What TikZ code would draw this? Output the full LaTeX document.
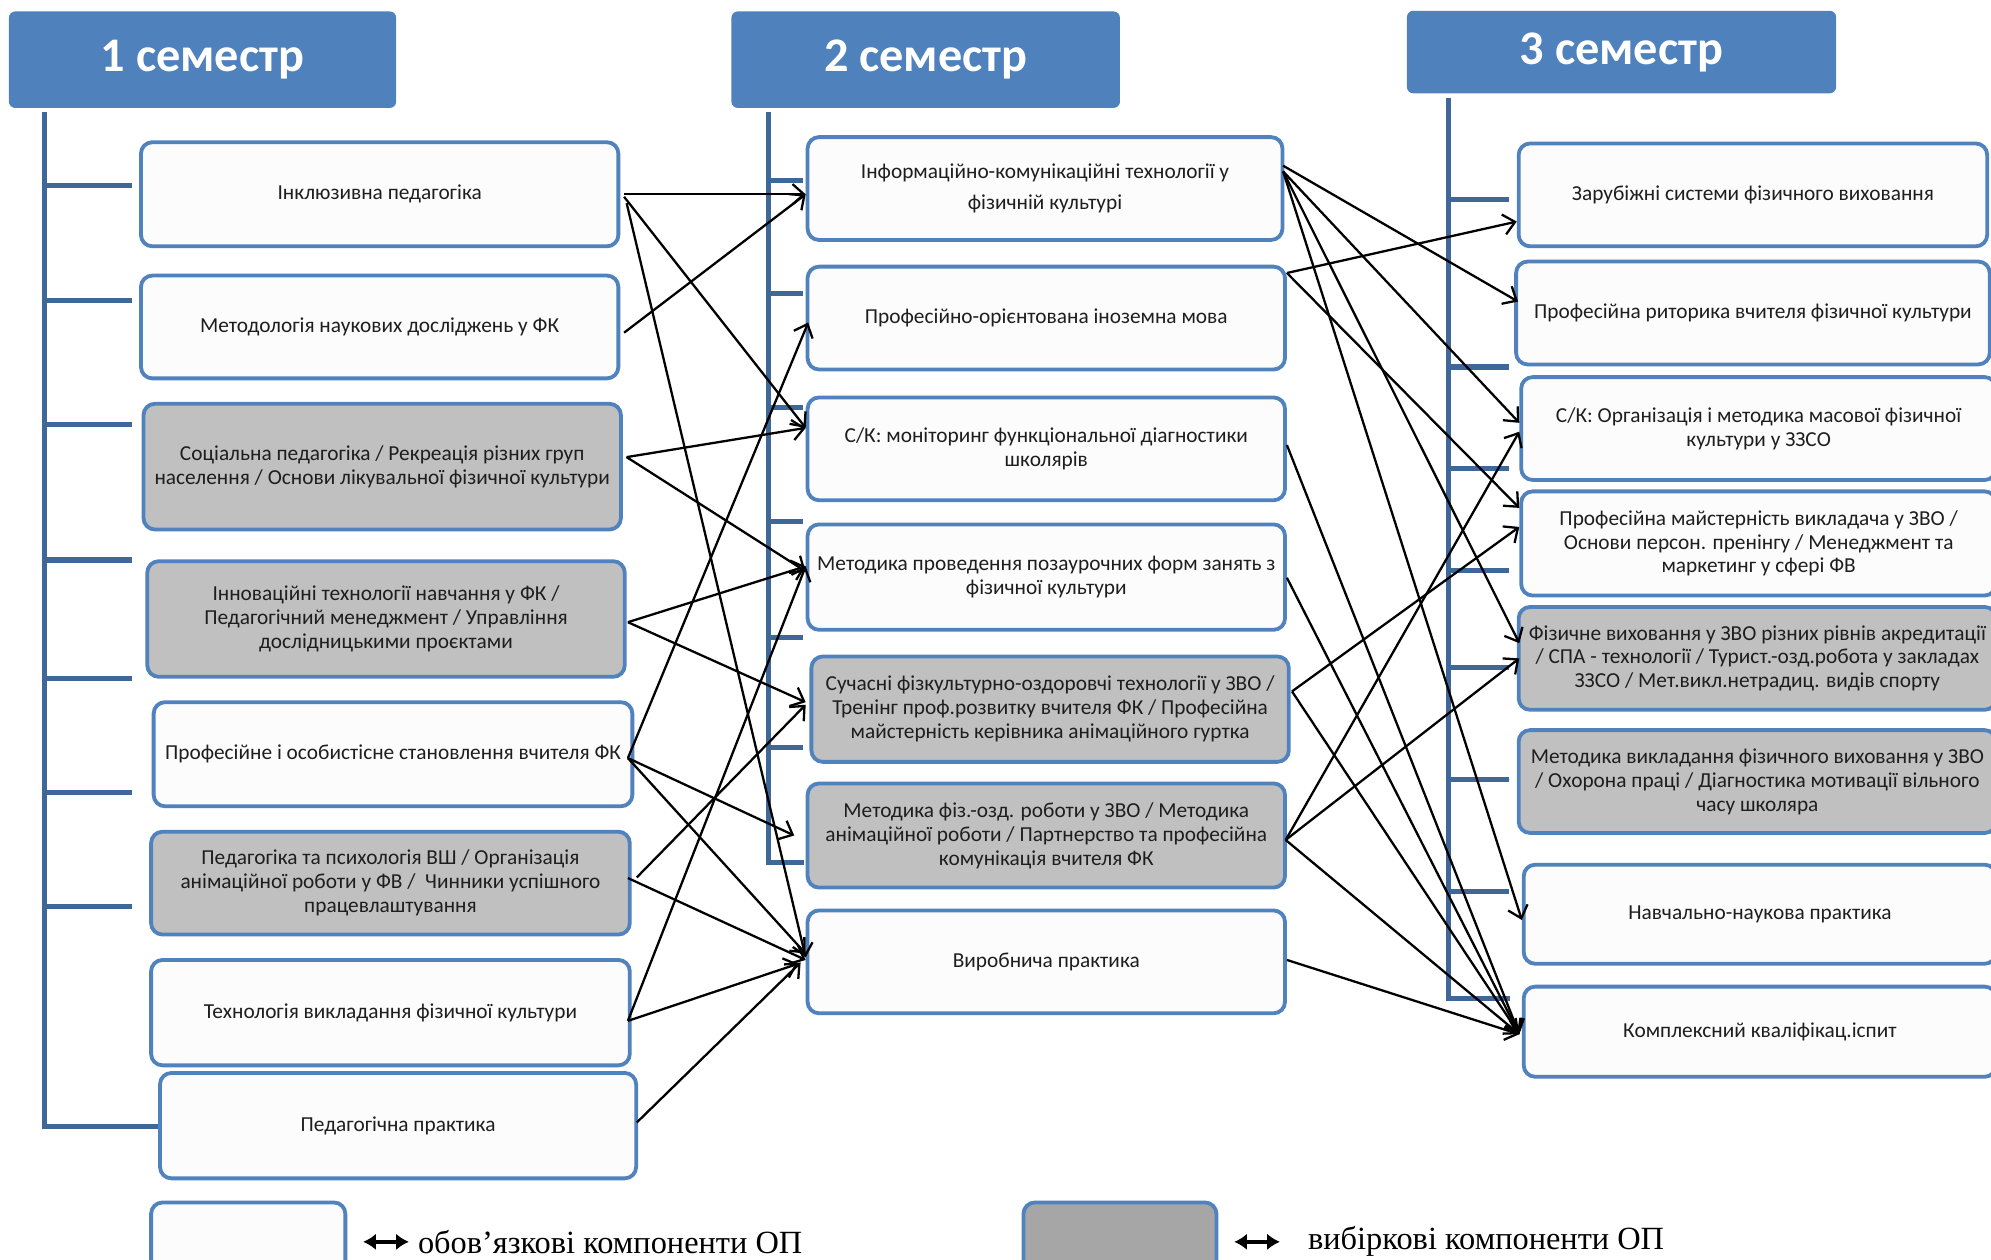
\documentclass[tikz,border=0pt]{standalone}
\usepackage{fontspec}
\setmainfont{Carlito}
\newfontfamily\legendfont{Liberation Serif}
\usetikzlibrary{arrows.meta,calc}
\definecolor{hblue}{HTML}{4F81BD}
\definecolor{bblue}{HTML}{5082BE}
\definecolor{tblue}{HTML}{3F6797}
\definecolor{boxwhite}{HTML}{FCFCFC}
\definecolor{boxgray}{HTML}{C0C0C0}
\definecolor{leggray}{HTML}{A6A6A6}
\definecolor{textc}{HTML}{1E1E1E}
\tikzset{
 box/.style={draw=bblue, line width=3pt, rounded corners=9pt, fill=boxwhite, align=center,
   font=\fontsize{16.8}{18.8}\selectfont, text=textc, inner sep=0pt},
 optbox/.style={box, fill=boxgray},
 hdr/.style={fill=hblue, rounded corners=5pt, text=white, font=\bfseries\fontsize{38}{44}\selectfont, inner sep=0pt},
 tree/.style={draw=tblue, line width=4pt},
 con/.style={line width=1.8pt, -{Straight Barb[length=9pt,width=16pt]}},
 legarr/.style={line width=3.2pt, {Latex[length=10pt,width=13pt]}-{Latex[length=10pt,width=13pt]}},
 legtext/.style={font=\legendfont\fontsize{25.5}{30}\selectfont, anchor=west, inner sep=0pt},
}
\begin{document}
\begin{tikzpicture}[x=1pt,y=-1pt]
\useasboundingbox (0,0) rectangle (1568,992);
\clip (0,0) rectangle (1568,992);
\fill[white] (0,0) rectangle (1568,992);
% headers
\node[hdr, minimum width=305pt, minimum height=76pt] (h1) at (159.5,47) {1 семестр};
\node[hdr, minimum width=306pt, minimum height=76pt] (h2) at (729,47) {2 семестр};
\node[hdr, minimum width=338pt, minimum height=65pt] (h3) at (1277,41) {3 семестр};
% tree lines
\draw[tree] (35,88) -- (35,887) -- (125,887);
\foreach \y in {146,237,334,441,534,624,714} \draw[tree] (35,\y) -- (104,\y);
\draw[tree] (605,88) -- (605,679) -- (633,679);
\foreach \y in {142,231,321,411,502,589} \draw[tree] (605,\y) -- (632,\y);
\draw[tree] (1141,77) -- (1141,786) -- (1189,786);
\foreach \y in {157,289,369,449,526,614,702} \draw[tree] (1141,\y) -- (1188,\y);
% column 1
\node[box, minimum width=376pt, minimum height=82pt] (a1) at (299,153) {Інклюзивна педагогіка};
\node[box, minimum width=376pt, minimum height=81pt] (a2) at (299,257.5) {Методологія наукових досліджень у ФК};
\node[optbox, minimum width=376pt, minimum height=99pt] (a3) at (301,367.5) {Соціальна педагогіка / Рекреація різних груп\\населення / Основи лікувальної фізичної культури};
\node[optbox, minimum width=376pt, minimum height=91pt] (a4) at (304,487.5) {Інноваційні технології навчання у ФК /\\Педагогічний менеджмент / Управління\\дослідницькими проєктами};
\node[box, minimum width=377pt, minimum height=82pt] (a5) at (309.5,594) {Професійне і особистісне становлення вчителя ФК};
\node[optbox, minimum width=377pt, minimum height=81pt] (a6) at (307.5,695.5) {Педагогіка та психологія ВШ / Організація\\анімаційної роботи у ФВ / \ Чинники успішного\\працевлаштування};
\node[box, minimum width=377pt, minimum height=83pt] (a7) at (307.5,797.5) {Технологія викладання фізичної культури};
\node[box, minimum width=375pt, minimum height=83pt] (a8) at (313.5,886.5) {Педагогічна практика};
% column 2
\node[box, minimum width=374pt, minimum height=81pt] (b1) at (823,148.5) {Інформаційно-комунікаційні технології у\\[6pt]фізичній культурі};
\node[box, minimum width=376pt, minimum height=81pt] (b2) at (824,250.5) {Професійно-орієнтована іноземна мова};
\node[box, minimum width=376pt, minimum height=81pt] (b3) at (824,353.5) {С/К: моніторинг функціональної діагностики\\школярів};
\node[box, minimum width=376pt, minimum height=83pt] (b4) at (824,454.5) {Методика проведення позаурочних форм занять з\\фізичної культури};
\node[optbox, minimum width=376pt, minimum height=83pt] (b5) at (827,558.5) {Сучасні фізкультурно-оздоровчі технології у ЗВО /\\Тренінг проф.розвитку вчителя ФК / Професійна\\майстерність керівника анімаційного гуртка};
\node[optbox, minimum width=376pt, minimum height=82pt] (b6) at (824,658) {Методика фіз.-озд. роботи у ЗВО / Методика\\анімаційної роботи / Партнерство та професійна\\комунікація вчителя ФК};
\node[box, minimum width=376pt, minimum height=81pt] (b7) at (824,757.5) {Виробнича практика};
% column 3
\node[box, minimum width=369pt, minimum height=81pt] (c1) at (1380.5,153.5) {Зарубіжні системи фізичного виховання};
\node[box, minimum width=373pt, minimum height=81pt] (c2) at (1380.5,246.5) {Професійна риторика вчителя фізичної культури};
\node[box, minimum width=374pt, minimum height=81pt] (c3) at (1385,337.5) {С/К: Організація і методика масової фізичної\\культури у ЗЗСО};
\node[box, minimum width=374pt, minimum height=82pt] (c4) at (1385,428) {Професійна майстерність викладача у ЗВО /\\Основи персон. пренінгу / Менеджмент та\\маркетинг у сфері ФВ};
\node[optbox, minimum width=376pt, minimum height=81pt] (c5) at (1384,518.5) {Фізичне виховання у ЗВО різних рівнів акредитації\\/ СПА - технології / Турист.-озд.робота у закладах\\ЗЗСО / Мет.викл.нетрадиц. видів спорту};
\node[optbox, minimum width=376pt, minimum height=81pt] (c6) at (1384,615.5) {Методика викладання фізичного виховання у ЗВО\\/ Охорона праці / Діагностика мотивації вільного\\часу школяра};
\node[box, minimum width=372pt, minimum height=78pt] (c7) at (1386,720) {Навчально-наукова практика};
\node[box, minimum width=372pt, minimum height=71pt] (c8) at (1386,812.5) {Комплексний кваліфікац.іспит};
% legend
\node[box, minimum width=153pt, minimum height=56pt] (lw) at (195.5,975) {};
\node[box, fill=leggray, minimum width=152pt, minimum height=56pt] (lg) at (882,975) {};
\coordinate (l1a) at (286,978); \coordinate (l1b) at (322,978);
\coordinate (l2a) at (972,978); \coordinate (l2b) at (1008,978);
\draw[legarr] (l1a) -- (l1b);
\draw[legarr] (l2a) -- (l2b);
\node[legtext] (lt1) at (329,978) {обов’язкові компоненти ОП};
\node[legtext] (lt2) at (1030,978) {вибіркові компоненти ОП};
% connectors column 1 -> column 2
\draw[con] ($(a1.east)+(3,0)$) -- ($(b1.west)+(0,4.5)$);
\draw[con] ($(a1.east)+(3,2)$) -- ($(b3.west)+(0,-16.5)$);
\draw[con] ($(a1.east)+(5,7)$) -- ($(b7.west)+(0,-3.5)$);
\draw[con] ($(a2.east)+(3,4.5)$) -- ($(b1.west)+(0,4.5)$);
\draw[con] ($(a3.east)+(3,-7.5)$) -- ($(b3.west)+(0,-16.5)$);
\draw[con] ($(a3.east)+(3,-7.5)$) -- ($(b4.west)+(0,-4.5)$);
\draw[con] ($(a4.east)+(1,2.5)$) -- ($(b4.west)+(0,-8.5)$);
\draw[con] ($(a4.east)+(1,2.5)$) -- ($(b5.west)+(-3,-5.5)$);
\draw[con] ($(a5.east)+(-5,3)$) -- ($(b2.west)+(2,3.5)$);
\draw[con] ($(a5.east)+(-5,3)$) -- ($(b6.west)+(-9,0)$);
\draw[con] ($(a5.east)+(-5,3)$) -- ($(b7.west)+(0,-6.5)$);
\draw[con] ($(a6.east)+(4,-4.5)$) -- ($(b5.west)+(-3,-3.5)$);
\draw[con] ($(a6.east)+(-3,-4)$) -- ($(b7.west)+(0,-1.5)$);
\draw[con] ($(a7.east)+(-3,6.5)$) -- ($(b4.west)+(0,-8.5)$);
\draw[con] ($(a7.east)+(-3,6.5)$) -- ($(b7.west)+(-6,1.5)$);
\draw[con] ($(a8.east)+(-1,-2.5)$) -- ($(b7.west)+(-4,0.5)$);
% connectors column 2 -> column 3
\draw[con] ($(b1.east)+(-1,-18)$) -- ($(c2.west)+(3,-9)$);
\draw[con] ($(b1.east)+(-1,-13.5)$) -- ($(c3.west)+(0,-4.5)$);
\draw[con] ($(b1.east)+(-1,-13.5)$) -- ($(c5.west)+(2,-12)$);
\draw[con] ($(b1.east)+(-1,-13.5)$) -- ($(c7.west)+(0,4.5)$);
\draw[con] ($(b2.east)+(0,-35.5)$) -- ($(c1.west)+(0,21)$);
\draw[con] ($(b2.east)+(0,-35.5)$) -- ($(c4.west)+(0,-28)$);
\draw[con] ($(b3.east)+(0,-3)$) -- ($(c8.west)+(-2,2)$);
\draw[con] ($(b4.east)+(0,0.5)$) -- ($(c8.west)+(-2,2)$);
\draw[con] ($(b5.east)+(1,-14)$) -- ($(c4.west)+(0,-13)$);
\draw[con] ($(b5.east)+(1,-14)$) -- ($(c8.west)+(-2,2)$);
\draw[con] ($(b6.east)+(-1,3.5)$) -- ($(c3.west)+(0,2.5)$);
\draw[con] ($(b6.east)+(-1,3.5)$) -- ($(c5.west)+(2,0)$);
\draw[con] ($(b6.east)+(-1,3.5)$) -- ($(c8.west)+(-2,2)$);
\draw[con] ($(b7.east)+(0,-1.5)$) -- ($(c8.west)+(-2,2)$);
\end{tikzpicture}
\end{document}
